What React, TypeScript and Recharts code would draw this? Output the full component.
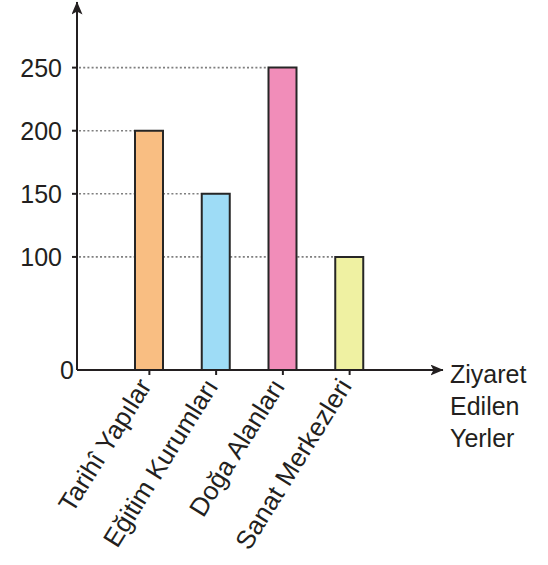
import React from 'react';
import * as R from 'recharts';
import { BarChart, Bar, XAxis, YAxis, Cell } from 'recharts';

// ---- data ----
const categories: string[] = ['Tarihî Yapılar', 'Eğitim Kurumları', 'Doğa Alanları', 'Sanat Merkezleri'];
const visitors: number[] = [200, 150, 250, 100];
const barColors: string[] = ['#F9BE82', '#9EDCF6', '#F18DB9', '#EFF1A2'];
const yTickValues: number[] = [0, 100, 150, 200, 250];
const xAxisTitle: string[] = ['Ziyaret', 'Edilen', 'Yerler'];

// the value axis is broken between 0 and 100: its bottom stands for 0
const AXIS_BREAK_VALUE = 10.4;
const AXIS_TOP_VALUE = 302;

const data = categories.map((name, i) => ({ name, value: visitors[i] }));
const yTicks = yTickValues.map((t) => (t === 0 ? AXIS_BREAK_VALUE : t));

// ---- style ----
const INK = '#231f20';
const FONT = '"Liberation Sans", Arial, Helvetica, sans-serif';
const FONT_SIZE = 25;
const X_LABEL_FONT_SIZE = 26;
const W = 548;
const H = 565;
const MARGIN = { top: 2, right: 105, bottom: 0, left: 0 };
const Y_AXIS_WIDTH = 77;
const X_AXIS_HEIGHT = 195;
const X_PADDING = { left: 39, right: 60 };
const BAR_SIZE = 28;
const LABEL_ANGLE = -58;

const useOffsetHook: any = (R as any).useOffset || (R as any).usePlotArea || null;

const GridToBar = (props: any) => {
  const off = useOffsetHook ? useOffsetHook() : null;
  const left = off && (off.left ?? off.x) != null ? (off.left ?? off.x) : MARGIN.left + Y_AXIS_WIDTH;
  const { x, y } = props;
  if (x == null || y == null) return null;
  return (
    <line
      x1={left + 2}
      y1={y}
      x2={x}
      y2={y}
      stroke="#7f7f7f"
      strokeWidth={1.6}
      strokeDasharray="2 2.2"
    />
  );
};

const YTick = (props: any) => {
  const { x, y, payload } = props;
  const isZero = payload.value === AXIS_BREAK_VALUE;
  const label = isZero ? '0' : String(payload.value);
  return (
    <g>
      {!isZero && (
        <line x1={x + 10} y1={y} x2={x + 15} y2={y} stroke={INK} strokeWidth={2} />
      )}
      <text
        x={isZero ? x + 12 : x}
        y={y}
        dy="0.36em"
        textAnchor="end"
        fontFamily={FONT}
        fontSize={FONT_SIZE}
        fill={INK}
      >
        {label}
      </text>
    </g>
  );
};

const XTick = (props: any) => {
  const { x, y, payload } = props;
  const ax = x + 3;
  const ay = y + 9;
  return (
    <text
      x={ax}
      y={ay}
      textAnchor="end"
      transform={`rotate(${LABEL_ANGLE}, ${ax}, ${ay})`}
      fontFamily={FONT}
      fontSize={X_LABEL_FONT_SIZE}
      fill={INK}
    >
      {payload.value}
    </text>
  );
};

const AxisTitle = (props: any) => {
  const vb = props.viewBox || {};
  const x0 = (vb.x ?? 0) + (vb.width ?? 0) + 7;
  const y0 = vb.y ?? 0;
  return (
    <text fontFamily={FONT} fontSize={FONT_SIZE} fill={INK}>
      {xAxisTitle.map((line, i) => (
        <tspan key={line} x={x0} y={y0 + 13 + i * 32}>
          {line}
        </tspan>
      ))}
    </text>
  );
};

export default function App() {
  return (
    <div style={{ position: 'absolute', left: 0, top: 0, width: W, height: H, background: '#fff' }}>
      <svg width={0} height={0} style={{ position: 'absolute' }}>
        <defs>
          <marker
            id="axisArrow"
            markerUnits="userSpaceOnUse"
            markerWidth={14}
            markerHeight={12}
            refX={12.5}
            refY={5.5}
            orient="auto-start-reverse"
          >
            <path d="M0,0 L13,5.5 L0,11 L3,5.5 Z" fill={INK} />
          </marker>
        </defs>
      </svg>
      <BarChart width={W} height={H} data={data} margin={MARGIN} barSize={BAR_SIZE}>
        <XAxis
          xAxisId="grid"
          dataKey="name"
          hide
          padding={X_PADDING}
        />
        <XAxis
          dataKey="name"
          height={X_AXIS_HEIGHT}
          padding={X_PADDING}
          interval={0}
          tickSize={5}
          tickMargin={2}
          tickLine={{ stroke: INK, strokeWidth: 2 }}
          axisLine={{ stroke: INK, strokeWidth: 2, markerEnd: 'url(#axisArrow)' } as any}
          tick={<XTick />}
          label={{ content: (p: any) => <AxisTitle {...p} /> } as any}
        />
        <YAxis
          width={Y_AXIS_WIDTH}
          domain={[AXIS_BREAK_VALUE, AXIS_TOP_VALUE]}
          ticks={yTicks}
          interval={0}
          allowDataOverflow
          tickSize={5}
          tickMargin={10}
          tickLine={false}
          axisLine={{ stroke: INK, strokeWidth: 2, markerStart: 'url(#axisArrow)' } as any}
          tick={<YTick />}
        />
        <Bar
          xAxisId="grid"
          dataKey="value"
          isAnimationActive={false}
          shape={(p: any) => <GridToBar {...p} />}
        />
        <Bar
          dataKey="value"
          isAnimationActive={false}
          stroke="#262626"
          strokeWidth={2}
        >
          {data.map((d, i) => (
            <Cell key={d.name} fill={barColors[i]} />
          ))}
        </Bar>
      </BarChart>
    </div>
  );
}
